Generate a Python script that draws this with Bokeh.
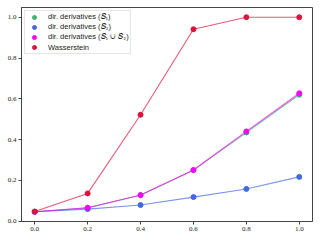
from bokeh.plotting import figure
from bokeh.models import Range1d, FixedTicker, Legend, LegendItem, NumeralTickFormatter
from bokeh.embed import file_html
from bokeh.resources import INLINE

x = [0.0, 0.2, 0.4, 0.6, 0.8, 1.0]
s1 = [0.046, 0.065, 0.127, 0.250, 0.435, 0.620]
s2 = [0.046, 0.059, 0.079, 0.118, 0.158, 0.217]
s12 = [0.046, 0.066, 0.128, 0.251, 0.440, 0.627]
wass = [0.047, 0.136, 0.522, 0.941, 1.000, 1.000]
ticks = [0.0, 0.2, 0.4, 0.6, 0.8, 1.0]

series = [
    ("dir. derivatives (\U0001D446\u2081)", s1, "#3cb371"),
    ("dir. derivatives (\U0001D446\u2082)", s2, "#4169e1"),
    ("dir. derivatives (\U0001D446\u2081 \u222A \U0001D446\u2082)", s12, "#ff00ff"),
    ("Wasserstein", wass, "#dc143c"),
]

p = figure(width=313, height=233, output_backend="svg", toolbar_location=None,
           x_range=Range1d(-0.05, 1.05), y_range=Range1d(-0.0017, 1.0477),
           min_border_left=21, min_border_right=1, min_border_top=7, min_border_bottom=12)
p.grid.visible = False
p.outline_line_color = "#444444"
p.outline_line_width = 1
p.background_fill_color = "white"

items = []
for label, ys, col in series:
    p.line(x, ys, line_color=col, line_width=1.1, line_alpha=0.7)
    r = p.scatter(x, ys, size=5, fill_color=col, line_color=col)
    items.append(LegendItem(label=label, renderers=[r]))

for ax in (p.xaxis[0], p.yaxis[0]):
    ax.ticker = FixedTicker(ticks=ticks)
    ax.formatter = NumeralTickFormatter(format="0.0")
    ax.minor_tick_line_color = None
    ax.major_tick_out = 3
    ax.major_tick_in = 0
    ax.major_tick_line_color = "#444444"
    ax.axis_line_color = "#444444"
    ax.major_label_text_font = "Liberation Serif"
    ax.major_label_text_font_size = "7px"
    ax.major_label_text_color = "#222222"
    ax.major_label_standoff = 2
    ax.axis_label_standoff = 0

legend = Legend(items=items, location="top_left")
legend.label_text_font = "Liberation Sans"
legend.label_text_font_size = "7.5px"
legend.label_text_color = "#222222"
legend.label_height = 10
legend.glyph_height = 10
legend.glyph_width = 16
legend.label_standoff = 6
legend.spacing = 0
legend.padding = 1
legend.margin = 3
legend.border_line_color = "#cccccc"
legend.border_line_width = 1
legend.background_fill_alpha = 0.8
p.add_layout(legend)

open("out.html", "w").write(file_html(p, INLINE))
